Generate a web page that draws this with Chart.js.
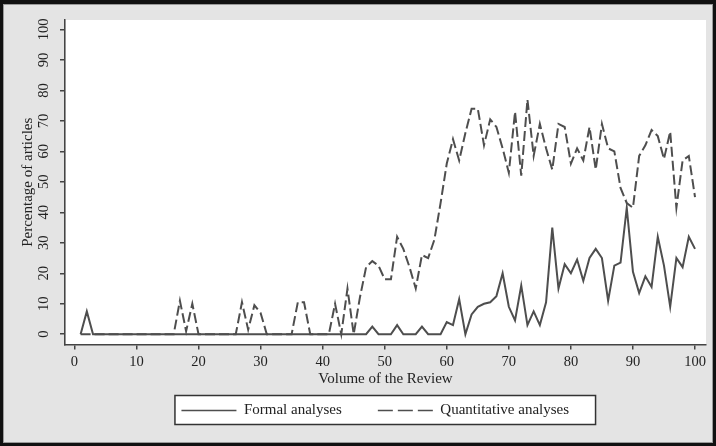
<!DOCTYPE html>
<html>
<head>
<meta charset="utf-8">
<script src="https://cdn.jsdelivr.net/npm/chart.js@4/dist/chart.umd.min.js"></script>
<style>
  html, body { margin: 0; padding: 0; background: #111; }
  canvas { display: block; }
</style>
</head>
<body>
<canvas id="c" width="716" height="446"></canvas>
<script>
const volumes = [1,2,3,4,5,6,7,8,9,10,11,12,13,14,15,16,17,18,19,20,
  21,22,23,24,25,26,27,28,29,30,31,32,33,34,35,36,37,38,39,40,
  41,42,43,44,45,46,47,48,49,50,51,52,53,54,55,56,57,58,59,60,
  61,62,63,64,65,66,67,68,69,70,71,72,73,74,75,76,77,78,79,80,
  81,82,83,84,85,86,87,88,89,90,91,92,93,94,95,96,97,98,99,100];

const formal = [0,7.5,0,0,0,0,0,0,0,0, 0,0,0,0,0,0,0,0,0,0,
  0,0,0,0,0,0,0,0,0,0, 0,0,0,0,0,0,0,0,0,0,
  0,0,0,0,0,0,0,2.5,0,0, 0,3,0,0,0,2.5,0,0,0,4,
  3,11.5,0,6.5,9,10,10.5,12.5,20,9, 4.5,16,3,7.5,3,10.5,35,15,23,20,
  24.5,17.5,25,28,25,11,22.5,23.5,41.5,20.5, 13.5,19,15.5,32,22.5,9,25,22,32,28];

const quant = [0,0,0,0,0,0,0,0,0,0, 0,0,0,0,0,0,11,1,10,0,
  0,0,0,0,0,0,10.5,1.5,9.5,7, 0,0,0,0,0,10.5,10.5,0,0,0,
  0,10,0,15,0,12,22,24,22.5,18, 18,32,28,22,15,26,25,31,43,56,
  64,57,66,74,74,62,70.5,68,61,53, 73,52,77,58.5,69,61,54,69,68,56,
  61,57,68,54,69,61,60,48,43,41.5, 58.5,62,67,65,57.5,66.5,41.5,57,58.5,45];

const seriesNames = ['Formal analyses', 'Quantitative analyses'];
const xTicks = [0,10,20,30,40,50,60,70,80,90,100];
const yTicks = [0,10,20,30,40,50,60,70,80,90,100];
const xTitle = 'Volume of the Review';
const yTitle = 'Percentage of articles';

const SERIF = "'Liberation Serif', 'Times New Roman', serif";
Chart.defaults.font.family = SERIF;
Chart.defaults.color = '#222';

const LINE = '#4e4e4e';
const AXIS = '#444';

const framePlugin = {
  id: 'frame',
  afterLayout(chart) {
    // nudge the legend row so it sits where the original one is
    if (chart.legend) {
      chart.legend.left += 4;
      chart.legend.right += 4;
    }
  },
  beforeDraw(chart) {
    const ctx = chart.ctx;
    const W = chart.width, H = chart.height;
    ctx.save();
    ctx.fillStyle = '#111';
    ctx.fillRect(0, 0, W, H);
    ctx.fillStyle = '#9a9a9a';
    ctx.fillRect(3, 4, W - 6, H - 7);
    ctx.fillStyle = '#e4e4e4';
    ctx.fillRect(4, 5, W - 8, H - 9);
    const a = chart.chartArea;
    ctx.fillStyle = '#ffffff';
    ctx.fillRect(a.left + 1, a.top, a.right - a.left - 1, a.bottom - a.top);
    // legend frame
    const hb = chart.legend && chart.legend.legendHitBoxes;
    if (hb && hb.length) {
      const first = hb[0], last = hb[hb.length - 1];
      const l = first.left - 6.5;
      const r = last.left + last.width + 26.5;
      const t = first.top - 7.5;
      const b = first.top + first.height + 6.5;
      ctx.fillStyle = '#ffffff';
      ctx.fillRect(l, t, r - l, b - t);
      ctx.strokeStyle = '#333';
      ctx.lineWidth = 1.5;
      ctx.strokeRect(l, t, r - l, b - t);
    }
    ctx.restore();
  }
};

new Chart(document.getElementById('c'), {
  type: 'line',
  data: {
    datasets: [
      {
        label: seriesNames[0],
        data: volumes.map((v, i) => ({ x: v, y: formal[i] })),
        borderColor: LINE,
        backgroundColor: LINE,
        borderWidth: 2,
        pointRadius: 0,
        tension: 0,
        fill: false
      },
      {
        label: seriesNames[1],
        data: volumes.map((v, i) => ({ x: v, y: quant[i] })),
        borderColor: LINE,
        backgroundColor: LINE,
        borderWidth: 2,
        borderDash: [10, 4],
        pointRadius: 0,
        tension: 0,
        fill: false
      }
    ]
  },
  options: {
    responsive: false,
    devicePixelRatio: 1,
    animation: false,
    layout: { padding: { left: 36.5, right: 10, top: 20, bottom: 18 } },
    plugins: {
      tooltip: { enabled: false },
      legend: {
        position: 'bottom',
        fullSize: true,
        labels: {
          usePointStyle: true,
          pointStyle: 'line',
          pointStyleWidth: 55,
          padding: 36,
          color: '#222',
          font: { size: 15, family: SERIF },
          generateLabels(chart) {
            const items = Chart.defaults.plugins.legend.labels.generateLabels(chart);
            items.forEach((it, i) => {
              it.lineWidth = 1.5;
              it.strokeStyle = LINE;
              it.lineDash = i === 1 ? [15, 5] : [];
              it.pointStyle = 'line';
            });
            return items;
          }
        }
      }
    },
    scales: {
      x: {
        type: 'linear',
        min: -1.515,
        max: 101.77,
        afterBuildTicks(s) { s.ticks = xTicks.map(v => ({ value: v })); },
        afterFit(s) { s.height = 22.5; },
        grid: { display: true, drawOnChartArea: false, drawTicks: true, tickLength: 5, color: AXIS, lineWidth: 1.5 },
        border: { display: true, color: AXIS, width: 1.5 },
        ticks: { padding: 4, maxRotation: 0, minRotation: 0, color: '#222', font: { size: 14.5, family: SERIF } },
        title: { display: true, text: xTitle, color: '#222', font: { size: 15, family: SERIF }, padding: { top: 0, bottom: -21.5 } }
      },
      y: {
        type: 'linear',
        min: -3.37,
        max: 103.1,
        afterBuildTicks(s) { s.ticks = yTicks.map(v => ({ value: v })); },
        afterFit(s) { s.width = 65 - 36.5; },
        grid: { display: true, drawOnChartArea: false, drawTicks: true, tickLength: 5, color: AXIS, lineWidth: 1.5 },
        border: { display: true, color: AXIS, width: 1.5 },
        ticks: { padding: 5.2, minRotation: 90, maxRotation: 90, crossAlign: 'center', color: '#222', font: { size: 14.5, family: SERIF } },
        title: { display: true, text: yTitle, color: '#222', font: { size: 15, family: SERIF }, padding: { top: -17, bottom: 0 } }
      }
    }
  },
  plugins: [framePlugin]
});
</script>
</body>
</html>
